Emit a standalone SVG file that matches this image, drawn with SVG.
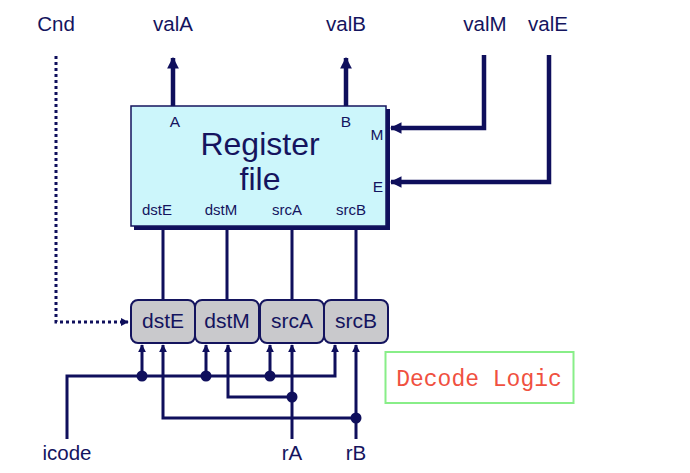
<svg xmlns="http://www.w3.org/2000/svg" width="690" height="473" viewBox="0 0 690 473">
<style>
.t{font-family:"Liberation Sans",Arial,sans-serif;fill:#14145e}
.w{stroke:#0f0f5c;fill:none}
.thick{stroke-width:4.5}
.thin{stroke-width:3}
.box{fill:#c9c9cc;stroke:#14145e;stroke-width:2}
</style>
<defs>
<marker id="big" viewBox="0 0 10 10" refX="9" refY="5" markerWidth="2.6" markerHeight="2.6" markerUnits="strokeWidth" orient="auto">
<path d="M0,0 L10,5 L0,10 z" fill="#0f0f5c"/>
</marker>
<marker id="small" viewBox="0 0 10 10" refX="9" refY="5" markerWidth="2.6" markerHeight="2.6" markerUnits="strokeWidth" orient="auto">
<path d="M0,0 L10,5 L0,10 z" fill="#0f0f5c"/>
</marker>
</defs>
<rect width="690" height="473" fill="#ffffff"/>

<g id="labels">
<text class="t" x="56" y="31" font-size="20.5" text-anchor="middle">Cnd</text>
<text class="t" x="173" y="31" font-size="20.5" text-anchor="middle">valA</text>
<text class="t" x="346" y="31" font-size="20.5" text-anchor="middle">valB</text>
<text class="t" x="485" y="31" font-size="20.5" text-anchor="middle">valM</text>
<text class="t" x="548" y="31" font-size="20.5" text-anchor="middle">valE</text>
<text class="t" x="67" y="460" font-size="20.5" text-anchor="middle">icode</text>
<text class="t" x="292" y="460" font-size="20.5" text-anchor="middle">rA</text>
<text class="t" x="356" y="460" font-size="20.5" text-anchor="middle">rB</text>
</g>

<g id="connectors">
<path class="w thick" d="M173,106 V58" marker-end="url(#big)"/>
<path class="w thick" d="M346,106 V58" marker-end="url(#big)"/>
<path class="w thick" d="M484,55 V128 H391" marker-end="url(#big)"/>
<path class="w thick" d="M549,55 V182 H391" marker-end="url(#big)"/>
<path d="M56,56 V322 H128" fill="none" stroke="#0f0f5c" stroke-width="3" stroke-dasharray="3,3" marker-end="url(#small)"/>
<path class="w thin" d="M163,228 V300 M227,228 V300 M292,228 V300 M356,228 V300"/>
<path class="w thin" d="M67,439 V376 H335 V345" marker-end="url(#small)"/>
<path class="w thin" d="M142,376 V345" marker-end="url(#small)"/>
<path class="w thin" d="M206,376 V345" marker-end="url(#small)"/>
<path class="w thin" d="M270,376 V345" marker-end="url(#small)"/>
<path class="w thin" d="M292,439 V345" marker-end="url(#small)"/>
<path class="w thin" d="M292,397 H228 V345" marker-end="url(#small)"/>
<path class="w thin" d="M356,439 V345" marker-end="url(#small)"/>
<path class="w thin" d="M356,418 H163 V345" marker-end="url(#small)"/>
<g fill="#0f0f5c">
<circle cx="142" cy="376" r="5.5"/>
<circle cx="206" cy="376" r="5.5"/>
<circle cx="270" cy="376" r="5.5"/>
<circle cx="292" cy="397" r="5.5"/>
<circle cx="356" cy="418" r="5.5"/>
</g>
</g>

<g id="register-file">
<rect x="134" y="109" width="256" height="121" fill="#0f0f5c"/>
<rect x="131" y="106" width="255" height="120" fill="#ccf6fb" stroke="#14145e" stroke-width="1.5"/>
<text class="t" x="175" y="127" font-size="15.5" text-anchor="middle">A</text>
<text class="t" x="346" y="127" font-size="15.5" text-anchor="middle">B</text>
<text class="t" x="377" y="140" font-size="15.5" text-anchor="middle">M</text>
<text class="t" x="378" y="192" font-size="15.5" text-anchor="middle">E</text>
<text class="t" x="260" y="155" font-size="32" text-anchor="middle">Register</text>
<text class="t" x="260" y="190" font-size="32" text-anchor="middle">file</text>
<text class="t" x="157" y="215" font-size="15" text-anchor="middle">dstE</text>
<text class="t" x="221" y="215" font-size="15" text-anchor="middle">dstM</text>
<text class="t" x="287" y="215" font-size="15" text-anchor="middle">srcA</text>
<text class="t" x="351" y="215" font-size="15" text-anchor="middle">srcB</text>
</g>

<g id="dstE"><rect class="box" x="131" y="300" width="64" height="43" rx="7"/><text class="t" x="163" y="328" font-size="21" text-anchor="middle">dstE</text></g>
<g id="dstM"><rect class="box" x="195" y="300" width="64" height="43" rx="7"/><text class="t" x="227" y="328" font-size="21" text-anchor="middle">dstM</text></g>
<g id="srcA"><rect class="box" x="260" y="300" width="64" height="43" rx="7"/><text class="t" x="292" y="328" font-size="21" text-anchor="middle">srcA</text></g>
<g id="srcB"><rect class="box" x="324" y="300" width="64" height="43" rx="7"/><text class="t" x="356" y="328" font-size="21" text-anchor="middle">srcB</text></g>

<g id="decode-logic">
<rect x="385.5" y="352" width="188" height="51" fill="#ffffff" stroke="#88ee88" stroke-width="2"/>
<text x="479" y="386" font-family="Liberation Mono,'Courier New',monospace" font-size="23" fill="#f05040" text-anchor="middle">Decode Logic</text>
</g>
</svg>
